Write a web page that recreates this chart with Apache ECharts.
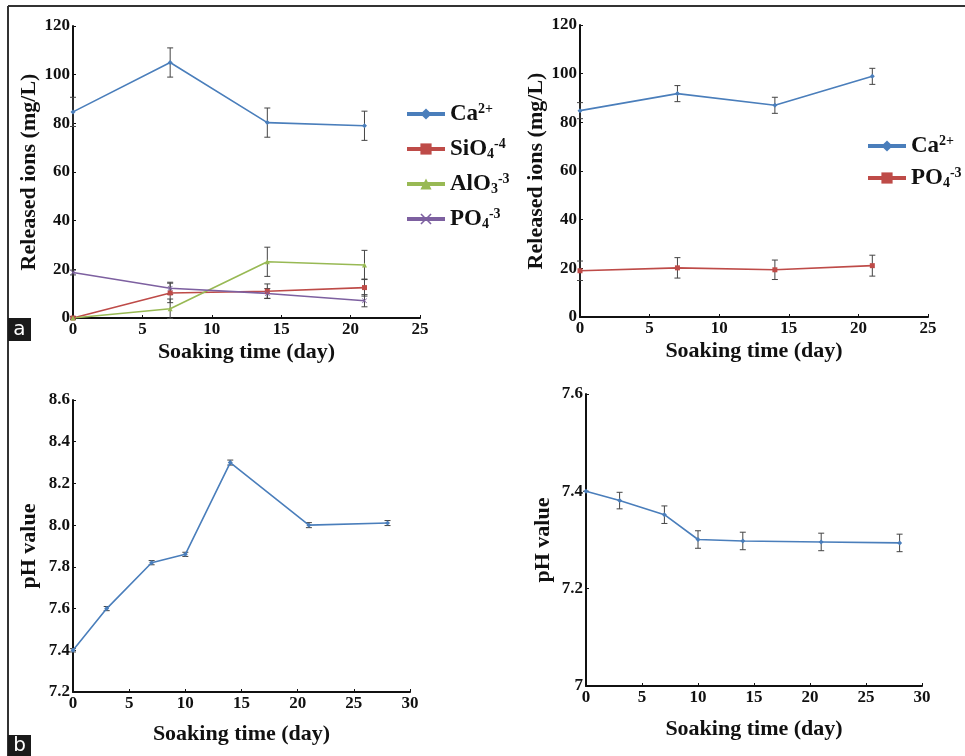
<!DOCTYPE html>
<html>
<head>
<meta charset="UTF-8">
<title>Released ions and pH</title>
<script src="https://cdn.jsdelivr.net/npm/echarts@6/dist/echarts.min.js"></script>
<style>
  html, body { margin: 0; padding: 0; background: #fff; }
  #chart { width: 965px; height: 756px; }
</style>
</head>
<body>
<div id="chart"></div>
<script>
// panel a (left): ions released, 4 series
var daysIon = [0, 7, 14, 21];
var caLeft = [84.7, 105, 80.3, 79];
var caLeftErr = [6, 6, 6, 6];
var sioLeft = [0, 10.3, 11, 12.5];
var sioLeftErr = [0.5, 4, 3, 3.5];
var aloLeft = [0, 3.8, 23.1, 21.8];
var aloLeftErr = [0.5, 4, 6, 6];
var poLeft = [18.7, 12.2, 10.1, 7.1];
var poLeftErr = [1, 2.5, 2, 2.5];

// panel a (right): 2 series
var caRight = [84.8, 91.8, 87, 98.9];
var caRightErr = [3.3, 3.3, 3.3, 3.3];
var poRight = [19, 20.2, 19.4, 21.1];
var poRightErr = [4, 4.2, 4, 4.3];

// panel b: pH
var daysPh = [0, 3, 7, 10, 14, 21, 28];
var phLeft = [7.4, 7.6, 7.82, 7.86, 8.3, 8.0, 8.01];
var phLeftErr = [0.008, 0.01, 0.01, 0.01, 0.012, 0.012, 0.012];
var phRight = [7.4, 7.381, 7.352, 7.301, 7.298, 7.296, 7.294];
var phRightErr = [0, 0.017, 0.018, 0.018, 0.018, 0.018, 0.018];

var serif = '"Liberation Serif", "Times New Roman", serif';
var BLUE = '#4a7ebb', RED = '#be4b48', GREEN = '#98b954', PURPLE = '#7d60a0';
var crossPath = 'path://M0,1L1,0L5,4L9,0L10,1L6,5L10,9L9,10L5,6L1,10L0,9L4,5Z';

function pairs(xs, ys) {
  return xs.map(function (x, i) { return [x, ys[i]]; });
}
function errPairs(xs, ys, es) {
  return xs.map(function (x, i) { return [x, ys[i] - es[i], ys[i] + es[i]]; });
}

function errorBars(idx, xs, ys, es) {
  return {
    type: 'custom',
    xAxisIndex: idx, yAxisIndex: idx,
    silent: true, z: 1,
    encode: { x: 0, y: [1, 2] },
    data: errPairs(xs, ys, es),
    renderItem: function (params, api) {
      var x = api.value(0);
      var a = api.coord([x, api.value(2)]);
      var b = api.coord([x, api.value(1)]);
      var st = { stroke: '#444', lineWidth: 1 };
      return {
        type: 'group',
        children: [
          { type: 'line', shape: { x1: a[0], y1: a[1], x2: b[0], y2: b[1] }, style: st },
          { type: 'line', shape: { x1: a[0] - 3, y1: a[1], x2: a[0] + 3, y2: a[1] }, style: st },
          { type: 'line', shape: { x1: b[0] - 3, y1: b[1], x2: b[0] + 3, y2: b[1] }, style: st }
        ]
      };
    }
  };
}

function lineSeries(name, idx, xs, ys, color, symbol) {
  return {
    name: name, type: 'line',
    xAxisIndex: idx, yAxisIndex: idx,
    data: pairs(xs, ys),
    symbol: symbol, symbolSize: 5, z: 3,
    lineStyle: { color: color, width: 1.6 },
    itemStyle: { color: color }
  };
}

var labelStyle = { fontFamily: serif, fontWeight: 'bold', fontSize: 17, color: '#111' };
var nameStyle = { fontFamily: serif, fontWeight: 'bold', fontSize: 22, color: '#111' };
var axisLine = { show: true, lineStyle: { color: '#111', width: 2 } };
var axisTick = { show: true, inside: true, length: 3, lineStyle: { color: '#111' } };

function xAxis(idx, max, gap) {
  return {
    type: 'value', gridIndex: idx, min: 0, max: max, interval: 5,
    name: 'Soaking time (day)', nameLocation: 'middle', nameGap: gap,
    nameTextStyle: nameStyle,
    axisLine: axisLine, axisTick: axisTick, splitLine: { show: false },
    axisLabel: Object.assign({ margin: 3 }, labelStyle)
  };
}
function yAxis(idx, min, max, step, name, gap, fmt) {
  return {
    type: 'value', gridIndex: idx, min: min, max: max, interval: step,
    name: name, nameLocation: 'middle', nameGap: gap, nameRotate: 90,
    nameTextStyle: nameStyle,
    axisLine: axisLine, axisTick: axisTick, splitLine: { show: false },
    axisLabel: Object.assign({ margin: 3, formatter: fmt }, labelStyle)
  };
}

var legendNames = {
  'Ca-a': '{b|Ca}{sup|2+}',
  'SiO4': '{b|SiO}{sub|4}{sup|-4}',
  'AlO3': '{b|AlO}{sub|3}{sup|-3}',
  'PO4-a': '{b|PO}{sub|4}{sup|-3}',
  'Ca-b': '{b|Ca}{sup|2+}',
  'PO4-b': '{b|PO}{sub|4}{sup|-3}'
};
var legendText = {
  fontFamily: serif, fontWeight: 'bold', color: '#111',
  rich: {
    b: { fontFamily: serif, fontWeight: 'bold', fontSize: 23, lineHeight: 24, color: '#111', verticalAlign: 'bottom' },
    sup: { fontFamily: serif, fontWeight: 'bold', fontSize: 14, lineHeight: 24, color: '#111', verticalAlign: 'top' },
    sub: { fontFamily: serif, fontWeight: 'bold', fontSize: 14, lineHeight: 16, color: '#111', verticalAlign: 'bottom' }
  }
};
function legend(names, left, top, gap) {
  return {
    data: names, left: left, top: top, orient: 'vertical',
    padding: 0,
    itemWidth: 38, itemHeight: 14, itemGap: gap,
    lineStyle: { width: 4 },
    formatter: function (n) { return legendNames[n]; },
    textStyle: legendText,
    selectedMode: false
  };
}

var chart = echarts.init(document.getElementById('chart'));
chart.setOption({
  backgroundColor: '#fff',
  animation: false,
  grid: [
    { left: 73, top: 26, width: 347, height: 292 },
    { left: 580, top: 25, width: 348, height: 292 },
    { left: 73, top: 400, width: 337, height: 292 },
    { left: 586, top: 394, width: 336, height: 292 }
  ],
  xAxis: [xAxis(0, 25, 23), xAxis(1, 25, 23), xAxis(2, 30, 31), xAxis(3, 30, 32)],
  yAxis: [
    yAxis(0, 0, 120, 20, 'Released ions (mg/L)', 31),
    yAxis(1, 0, 120, 20, 'Released ions (mg/L)', 31),
    yAxis(2, 7.2, 8.6, 0.2, 'pH value', 33, function (v) { return v.toFixed(1); }),
    yAxis(3, 7.0, 7.6, 0.2, 'pH value', 32, function (v) { return Math.abs(v - 7) < 1e-9 ? '7' : v.toFixed(1); })
  ],
  legend: [
    legend(['Ca-a', 'SiO4', 'AlO3', 'PO4-a'], 405, 102, 11),
    legend(['Ca-b', 'PO4-b'], 866, 134, 8)
  ],
  graphic: [
    { type: 'line', shape: { x1: 8, y1: 6, x2: 965, y2: 6 }, style: { stroke: '#333', lineWidth: 2 } },
    { type: 'line', shape: { x1: 8, y1: 6, x2: 8, y2: 756 }, style: { stroke: '#333', lineWidth: 2 } },
    { type: 'rect', shape: { x: 8, y: 318, width: 23, height: 23 }, style: { fill: '#1a1a1a' } },
    { type: 'text', x: 19.5, y: 329.5, style: { text: 'a', fill: '#fff', font: '20px "DejaVu Sans", sans-serif', align: 'center', verticalAlign: 'middle' } },
    { type: 'rect', shape: { x: 8, y: 735, width: 23, height: 21 }, style: { fill: '#1a1a1a' } },
    { type: 'text', x: 19.5, y: 745.5, style: { text: 'b', fill: '#fff', font: '20px "DejaVu Sans", sans-serif', align: 'center', verticalAlign: 'middle' } }
  ],
  series: [
    errorBars(0, daysIon, caLeft, caLeftErr),
    errorBars(0, daysIon, sioLeft, sioLeftErr),
    errorBars(0, daysIon, aloLeft, aloLeftErr),
    errorBars(0, daysIon, poLeft, poLeftErr),
    lineSeries('Ca-a', 0, daysIon, caLeft, BLUE, 'diamond'),
    lineSeries('SiO4', 0, daysIon, sioLeft, RED, 'rect'),
    lineSeries('AlO3', 0, daysIon, aloLeft, GREEN, 'triangle'),
    lineSeries('PO4-a', 0, daysIon, poLeft, PURPLE, crossPath),
    errorBars(1, daysIon, caRight, caRightErr),
    errorBars(1, daysIon, poRight, poRightErr),
    lineSeries('Ca-b', 1, daysIon, caRight, BLUE, 'diamond'),
    lineSeries('PO4-b', 1, daysIon, poRight, RED, 'rect'),
    errorBars(2, daysPh, phLeft, phLeftErr),
    lineSeries('pH-a', 2, daysPh, phLeft, BLUE, 'diamond'),
    errorBars(3, daysPh, phRight, phRightErr),
    lineSeries('pH-b', 3, daysPh, phRight, BLUE, 'diamond')
  ]
});
</script>
</body>
</html>
